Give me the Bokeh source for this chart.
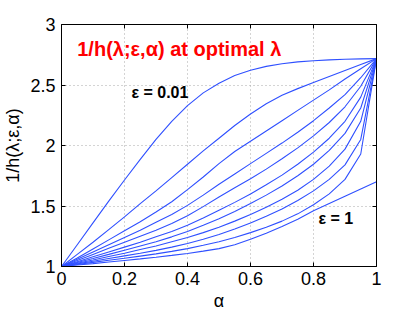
from bokeh.plotting import figure
from bokeh.models import Range1d, FixedTicker, LinearAxis, Label
from bokeh.embed import file_html
from bokeh.resources import INLINE

alpha = [0.00, 0.05, 0.10, 0.15, 0.20, 0.25, 0.30, 0.35, 0.40, 0.45, 0.50,
         0.55, 0.60, 0.65, 0.70, 0.75, 0.80, 0.85, 0.90, 0.95, 1.00]

eps_001 = [1.000, 1.180, 1.360, 1.540, 1.715, 1.885, 2.050, 2.200, 2.330, 2.435, 2.515,
           2.578, 2.622, 2.654, 2.676, 2.691, 2.701, 2.708, 2.713, 2.716, 2.718]
eps_01 = [1.000, 1.100, 1.200, 1.305, 1.410, 1.520, 1.625, 1.735, 1.845, 1.955, 2.060,
          2.165, 2.260, 2.345, 2.415, 2.470, 2.520, 2.570, 2.620, 2.670, 2.718]
eps_02 = [1.000, 1.070, 1.145, 1.220, 1.295, 1.370, 1.450, 1.535, 1.635, 1.740, 1.850,
          1.950, 2.035, 2.120, 2.205, 2.290, 2.375, 2.460, 2.550, 2.635, 2.718]
eps_03 = [1.000, 1.060, 1.120, 1.180, 1.240, 1.300, 1.365, 1.430, 1.505, 1.590, 1.680,
          1.765, 1.850, 1.935, 2.020, 2.110, 2.205, 2.310, 2.420, 2.560, 2.718]
eps_04 = [1.000, 1.050, 1.100, 1.150, 1.200, 1.250, 1.300, 1.355, 1.420, 1.495, 1.575,
          1.650, 1.725, 1.805, 1.890, 1.980, 2.080, 2.190, 2.320, 2.490, 2.718]
eps_05 = [1.000, 1.040, 1.080, 1.120, 1.160, 1.200, 1.245, 1.290, 1.340, 1.400, 1.465,
          1.530, 1.600, 1.675, 1.755, 1.845, 1.945, 2.060, 2.200, 2.400, 2.718]
eps_06 = [1.000, 1.033, 1.066, 1.100, 1.135, 1.170, 1.205, 1.245, 1.290, 1.340, 1.395,
          1.455, 1.520, 1.590, 1.665, 1.750, 1.845, 1.960, 2.100, 2.310, 2.718]
eps_07 = [1.000, 1.027, 1.054, 1.082, 1.110, 1.140, 1.170, 1.205, 1.240, 1.280, 1.325,
          1.375, 1.430, 1.490, 1.555, 1.630, 1.720, 1.830, 1.970, 2.200, 2.718]
eps_08 = [1.000, 1.022, 1.044, 1.066, 1.088, 1.110, 1.133, 1.160, 1.190, 1.225, 1.265,
          1.310, 1.360, 1.415, 1.475, 1.545, 1.625, 1.720, 1.840, 2.050, 2.718]
eps_09 = [1.000, 1.017, 1.034, 1.051, 1.068, 1.086, 1.104, 1.125, 1.148, 1.175, 1.205,
          1.240, 1.280, 1.325, 1.375, 1.435, 1.510, 1.600, 1.720, 1.930, 2.718]
eps_1 = [1.000, 1.012, 1.024, 1.037, 1.050, 1.063, 1.077, 1.092, 1.108, 1.127, 1.148,
         1.180, 1.225, 1.275, 1.330, 1.390, 1.460, 1.520, 1.580, 1.640, 1.700]

series = [eps_001, eps_01, eps_02, eps_03, eps_04, eps_05, eps_06, eps_07, eps_08, eps_09, eps_1]

x_ticks = [0, 0.2, 0.4, 0.6, 0.8, 1]
x_tick_labels = ["0", "0.2", "0.4", "0.6", "0.8", "1"]
y_ticks = [1, 1.5, 2, 2.5, 3]
y_tick_labels = ["1", "1.5", "2", "2.5", "3"]

title_text = "1/h(λ;ε,α)  at optimal λ"
label_top = "ε = 0.01"
label_bottom = "ε = 1"
x_label = "α"
y_label = "1/h(λ;ε,α)"

FONT = "Liberation Sans"
LINE = "#2f50ff"

p = figure(frame_width=315, frame_height=242, output_backend="svg", toolbar_location=None,
           x_range=Range1d(0, 1), y_range=Range1d(1, 3),
           min_border_left=61, min_border_top=24, min_border_right=28, min_border_bottom=40,
           background_fill_color="white", border_fill_color="white")
p.outline_line_color = None

for ys in series:
    p.line(alpha, ys, line_color=LINE, line_width=1.1)

xt = FixedTicker(ticks=x_ticks)
yt = FixedTicker(ticks=y_ticks)

bottom = p.xaxis[0]
left = p.yaxis[0]

bottom.ticker = xt
bottom.major_label_overrides = {t: s for t, s in zip(x_ticks, x_tick_labels)}
bottom.axis_label = x_label
bottom.major_label_standoff = 5
bottom.axis_label_standoff = 3

left.ticker = yt
left.major_label_overrides = {t: s for t, s in zip(y_ticks, y_tick_labels)}
left.axis_label = y_label
left.axis_label_standoff = 4
left.major_label_standoff = 6

right = LinearAxis(ticker=yt, major_label_text_color=None, major_label_text_font_size="8px",
                   major_label_standoff=0)
top = LinearAxis(ticker=xt, major_label_text_color=None, major_label_text_font_size="8px",
                 major_label_standoff=0)
p.add_layout(right, "right")
p.add_layout(top, "above")

for ax in [bottom, left, right, top]:
    ax.axis_line_color = "black"
    ax.axis_line_width = 1
    ax.major_tick_in = 4
    ax.major_tick_out = 0
    ax.minor_tick_line_color = None
    ax.major_tick_line_color = "black"
    ax.major_label_text_font = FONT

for ax in [bottom, left]:
    ax.major_label_text_font_size = "18px"
    ax.major_label_text_color = "black"
    ax.axis_label_text_font = FONT
    ax.axis_label_text_font_size = "18px"
    ax.axis_label_text_font_style = "normal"
    ax.axis_label_text_color = "black"

p.xgrid.ticker = xt
p.ygrid.ticker = yt
for g in [p.xgrid[0], p.ygrid[0]]:
    g.grid_line_color = "#a8a8a8"
    g.grid_line_dash = "1 3"
    g.grid_line_width = 1

p.add_layout(Label(x=0.05, y=2.80, text=title_text, text_font=FONT, text_font_size="20px",
                   text_font_style="bold", text_color="red", text_align="left",
                   text_baseline="middle"))
p.add_layout(Label(x=0.222, y=2.44, text=label_top, text_font=FONT, text_font_size="16px",
                   text_font_style="bold", text_color="black", text_align="left",
                   text_baseline="middle"))
p.add_layout(Label(x=0.816, y=1.40, text=label_bottom, text_font=FONT, text_font_size="16px",
                   text_font_style="bold", text_color="black", text_align="left",
                   text_baseline="middle"))

open("out.html", "w").write(file_html(p, INLINE))
